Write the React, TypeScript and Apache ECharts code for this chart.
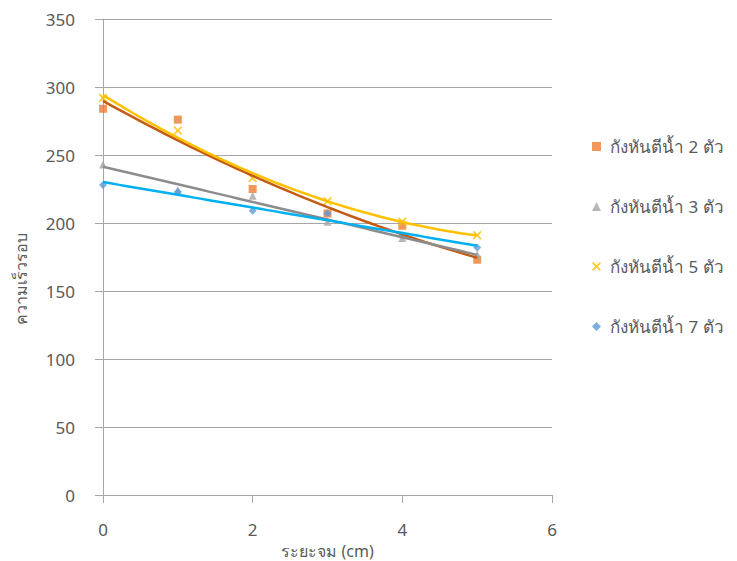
import React, { useEffect, useRef } from "react";
import * as echarts from "echarts";

const xValues = [0, 1, 2, 3, 4, 5];
const seriesNames = ["กังหันตีน้ำ 2 ตัว", "กังหันตีน้ำ 3 ตัว", "กังหันตีน้ำ 5 ตัว", "กังหันตีน้ำ 7 ตัว"];
const turbine2 = [284, 276, 225, 207, 198, 173];
const turbine3 = [243, 224, 220, 201, 189, 177];
const turbine5 = [292, 268, 233, 216, 201, 191];
const turbine7 = [228, 223, 209, 207, 191, 182];
const yTicks = { min: 0, max: 350, interval: 50 };
const xTicks = { min: 0, max: 6, interval: 2 };

const markerColors = ["#ED7D31", "#A5A5A5", "#FFC000", "#5B9BD5"];
const trendColors = ["#C55A11", "#8C8C8C", "#FFC000", "#00B0F0"];
const trendOrders = [2, 1, 2, 1];

const crossPath =
  "path://M0,1.5L1.5,0L5,3.5L8.5,0L10,1.5L6.5,5L10,8.5L8.5,10L5,6.5L1.5,10L0,8.5L3.5,5Z";
const symbols = ["rect", "triangle", crossPath, "diamond"];
const symbolSizes = [8, 8, 9, 8];

function polyfit(xs: number[], ys: number[], order: number): number[] {
  const n = order + 1;
  const A: number[][] = [];
  for (let i = 0; i < n; i++) {
    A.push([]);
    for (let j = 0; j < n; j++) {
      A[i].push(xs.reduce((s, x) => s + Math.pow(x, i + j), 0));
    }
    A[i].push(xs.reduce((s, x, k) => s + Math.pow(x, i) * ys[k], 0));
  }
  for (let c = 0; c < n; c++) {
    let p = c;
    for (let r = c + 1; r < n; r++) if (Math.abs(A[r][c]) > Math.abs(A[p][c])) p = r;
    [A[c], A[p]] = [A[p], A[c]];
    for (let r = 0; r < n; r++) {
      if (r === c) continue;
      const f = A[r][c] / A[c][c];
      for (let k = c; k <= n; k++) A[r][k] -= f * A[c][k];
    }
  }
  return A.map((row, i) => row[n] / row[i]);
}

function trendPoints(ys: number[], order: number): number[][] {
  const coef = polyfit(xValues, ys, order);
  const pts: number[][] = [];
  const x0 = xValues[0];
  const x1 = xValues[xValues.length - 1];
  for (let i = 0; i <= 50; i++) {
    const x = x0 + ((x1 - x0) * i) / 50;
    pts.push([x, coef.reduce((s, c, k) => s + c * Math.pow(x, k), 0)]);
  }
  return pts;
}

export default function App() {
  const ref = useRef<HTMLDivElement>(null);
  useEffect(() => {
    if (!ref.current) return;
    const chart = echarts.init(ref.current, undefined, { renderer: "svg" });
    const all = [turbine2, turbine3, turbine5, turbine7];
    const font = "'Noto Sans', 'DejaVu Sans', sans-serif";
    const scatter = all.map((ys, i) => ({
      name: seriesNames[i],
      type: "scatter",
      data: ys.map((y, k) => [xValues[k], y]),
      symbol: symbols[i],
      symbolSize: symbolSizes[i],
      itemStyle: { color: markerColors[i] },
      z: 2,
    }));
    const trends = all.map((ys, i) => ({
      name: "trend" + i,
      type: "line",
      data: trendPoints(ys, trendOrders[i]),
      showSymbol: false,
      smooth: false,
      lineStyle: { color: trendColors[i], width: 2.5 },
      itemStyle: { color: trendColors[i] },
      z: 3,
    }));
    chart.setOption({
      animation: false,
      backgroundColor: "#ffffff",
      textStyle: { fontFamily: font },
      grid: { left: 103, right: 185, top: 19, bottom: 66, containLabel: false, outerBoundsMode: "none" },
      legend: {
        orient: "vertical",
        left: 587,
        top: 133,
        itemGap: 43,
        itemWidth: 9,
        itemHeight: 9,
        textStyle: { fontSize: 17, color: "#595959", fontFamily: font, padding: [0, 0, 0, 4] },
        data: seriesNames.map((n, i) => ({ name: n, icon: symbols[i] })),
      },
      xAxis: {
        type: "value",
        min: xTicks.min,
        max: xTicks.max,
        interval: xTicks.interval,
        name: "ระยะจม (cm)",
        nameLocation: "middle",
        nameGap: 34,
        nameTextStyle: { fontSize: 16, lineHeight: 16, color: "#595959" },
        axisLine: { show: true, lineStyle: { color: "#A6A6A6", width: 1 } },
        axisTick: { show: true, length: 8, lineStyle: { color: "#A6A6A6" } },
        axisLabel: { fontSize: 17, color: "#595959", margin: 26 },
        splitLine: { show: false },
      },
      yAxis: {
        type: "value",
        min: yTicks.min,
        max: yTicks.max,
        interval: yTicks.interval,
        name: "ความเร็วรอบ",
        nameLocation: "middle",
        nameGap: 74,
        nameRotate: 90,
        nameTextStyle: { fontSize: 16, color: "#595959", padding: [0, 44, 0, 0] },
        axisLine: { show: true, lineStyle: { color: "#A6A6A6", width: 1 } },
        axisTick: { show: true, length: 8, lineStyle: { color: "#A6A6A6" } },
        axisLabel: { fontSize: 17, color: "#595959", margin: 28 },
        splitLine: { show: true, lineStyle: { color: "#A6A6A6", width: 1 } },
      },
      series: [...scatter, ...trends],
    });
    return () => chart.dispose();
  }, []);
  return <div ref={ref} style={{ width: 737, height: 561, position: "absolute", left: 0, top: 0 }} />;
}
